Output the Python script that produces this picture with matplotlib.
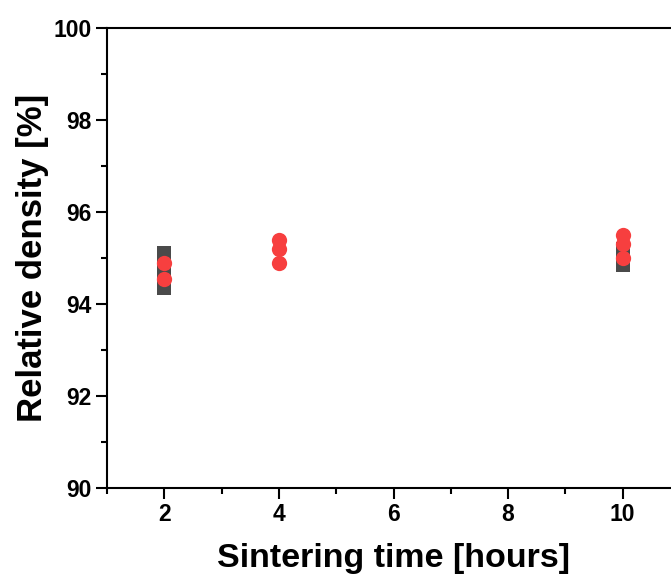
import matplotlib
matplotlib.use("Agg")
import matplotlib.pyplot as plt
from matplotlib.ticker import MultipleLocator

plt.rcParams["font.family"] = ["Liberation Sans", "DejaVu Sans"]
plt.rcParams["font.weight"] = "bold"

# gray squares
timeA = [2, 2, 2, 2, 10, 10, 10]
densA = [95.1, 94.85, 94.6, 94.35, 94.85, 95.05, 95.2]
# red circles
timeB = [2, 2, 4, 4, 4, 10, 10, 10]
densB = [94.9, 94.55, 95.4, 95.2, 94.9, 95.5, 95.3, 95.0]

fig = plt.figure(figsize=(6.71, 5.79), dpi=100)
ax = fig.add_axes([107/671, 1-488/579, (680-107)/671, 460/579])

ax.plot(timeA, densA, "s", color="#4a4a4a", markersize=10, markeredgewidth=0)
ax.plot(timeB, densB, "o", color="#f73f3f", markersize=11, markeredgewidth=0)

ax.set_xlim(1, 11)
ax.set_ylim(90, 100)
ax.xaxis.set_major_locator(MultipleLocator(2))
ax.xaxis.set_minor_locator(MultipleLocator(1))
ax.yaxis.set_major_locator(MultipleLocator(2))
ax.yaxis.set_minor_locator(MultipleLocator(1))
ax.set_xticks([2, 4, 6, 8, 10])
ax.tick_params(which="major", direction="out", length=8, width=1.5, labelsize=16.5, pad=3)
ax.tick_params(which="minor", direction="out", length=4, width=1.5)
for lab in ax.get_xticklabels() + ax.get_yticklabels():
    lab.set_fontweight("bold")
for s in ax.spines.values():
    s.set_linewidth(1.5)

ax.set_xlabel("Sintering time [hours]", fontsize=24.5, fontweight="bold", labelpad=12)
ax.set_ylabel("Relative density [%]", fontsize=25, fontweight="bold", labelpad=3)

fig.savefig("out.png", dpi=100)
